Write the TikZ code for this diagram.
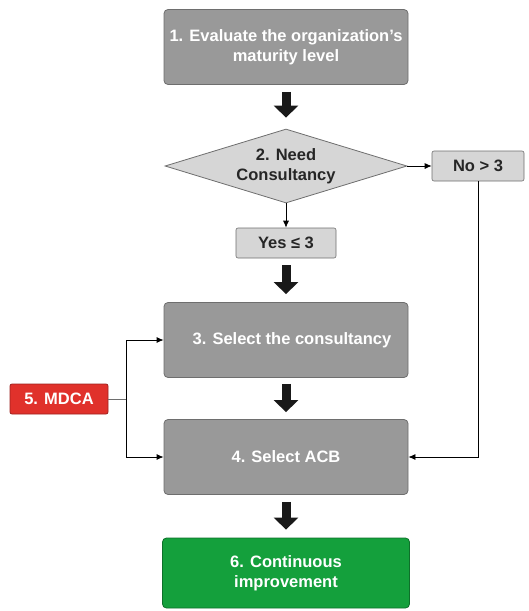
\documentclass[tikz,border=0pt]{standalone}
\usepackage{fontspec}
\setmainfont{Liberation Sans}
\usepackage{tikz}
\usetikzlibrary{shapes,arrows.meta,positioning,calc}

\definecolor{boxgray}{HTML}{999999}
\definecolor{edgegray}{HTML}{6E6E6E}
\definecolor{lightgray}{HTML}{D6D6D6}
\definecolor{mdcared}{HTML}{E0312B}
\definecolor{contgreen}{HTML}{14A03C}

\begin{document}
\begin{tikzpicture}[
    x=1pt, y=-1pt,
    box/.style={rectangle, rounded corners=4pt, draw=edgegray, line width=0.8pt, fill=boxgray, text=white, minimum width=244pt, minimum height=75pt, align=center, font=\fontsize{16.5}{19.5}\selectfont\bfseries},
    tag/.style={rectangle, rounded corners=2pt, draw=edgegray, line width=0.6pt, fill=lightgray, text=black!85, minimum height=30pt, align=center, font=\fontsize{16.5}{19.5}\selectfont\bfseries},
    fat/.style={line width=9pt, -{Triangle[width=24pt,length=12pt]}, black!90},
    thin/.style={draw=edgegray, line width=0.8pt, -{Latex[length=7pt,width=6pt]}, black}
]
    \useasboundingbox (0,0) rectangle (528,611);

    \node[box] (evaluate) at (286,47) {1. Evaluate the organization's\\maturity level};
    \node[diamond, aspect=3.27, draw=edgegray, line width=0.8pt, fill=lightgray, text=black!85, minimum width=242pt, minimum height=74pt, inner sep=0pt, align=center, font=\fontsize{16.5}{19.5}\selectfont\bfseries] (need) at (286,166) {2. Need\\Consultancy};
    \node[tag, minimum width=92pt] (no) at (478,166) {No > 3};
    \node[tag, minimum width=100pt] (yes) at (286,243) {Yes ≤ 3};
    \node[box] (consult) at (286,340) {\hspace*{12pt}3. Select the consultancy};
    \node[box] (acb) at (286,457) {4. Select ACB};
    \node[box, fill=contgreen, draw=contgreen!70!black, minimum width=247pt, minimum height=70pt] (improve) at (286,573) {6. Continuous\\improvement};
    \node[box, fill=mdcared, draw=mdcared!70!black, rounded corners=2pt, minimum width=98pt, minimum height=30pt] (mdca) at (59,399) {5. MDCA};
    \coordinate (split) at (126,399);

    % main flow
    \draw[fat, shorten <=7pt, shorten >=11pt] (evaluate) -- (need);
    \draw[fat, shorten <=7pt, shorten >=8pt] (yes) -- (consult);
    \draw[fat, shorten <=6pt, shorten >=7pt] (consult) -- (acb);
    \draw[fat, shorten <=7pt, shorten >=8pt] (acb) -- (improve);

    % decision
    \draw[thin] (need.east) -- (no.west);
    \draw[thin] (need.south) -- (yes.north);
    \draw[thin] (no.south) |- (acb.east);

    % MDCA feedback
    \draw[draw=edgegray, line width=0.8pt] (mdca.east) -- (split);
    \draw[thin] (split) |- (consult.west);
    \draw[thin] (split) |- (acb.west);
\end{tikzpicture}
\end{document}
